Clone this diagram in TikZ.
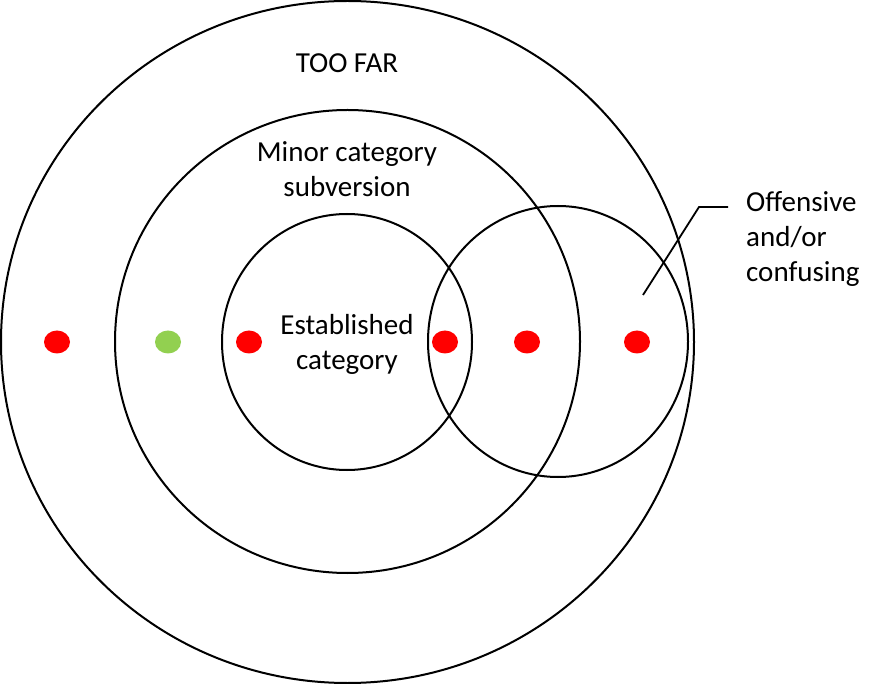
\documentclass[tikz,border=0pt]{standalone}
\usepackage{fontspec}
\setmainfont{Carlito}
\usepackage{xcolor}
\usetikzlibrary{positioning,shapes.geometric}
\definecolor{dotred}{HTML}{FF0000}
\definecolor{dotgreen}{HTML}{92D050}
\definecolor{ink1}{HTML}{000000}

\begin{document}
\begin{tikzpicture}[
  x=1pt, y=-1pt,
  font=\fontsize{29}{35}\selectfont,
  ring/.style={draw=ink1, line width=2pt},
  dotR/.style={ellipse, fill=dotred, draw=none, minimum width=26pt,
               minimum height=23pt, inner sep=0pt},
  dotG/.style={dotR, fill=dotgreen},
  lbl/.style={text=ink1, align=center, inner sep=0pt},
  lead/.style={draw=ink1, line width=1.8pt}
]
\useasboundingbox (0,0) rectangle (881,684);

% ===== rings =====
\draw[ring] (347.5,342) ellipse[x radius=346.5, y radius=341];
\draw[ring] (347.5,341.5) ellipse[x radius=232.5, y radius=231.5];
\draw[ring] (347,342) ellipse[x radius=125, y radius=128];
\draw[ring] (558,341.5) ellipse[x radius=130, y radius=135.5];

% ===== labels =====
\node[lbl] (toofar) at (347,63) {TOO FAR};
\node[lbl] (minor) at (347,169) {Minor category\\subversion};
\node[lbl] (estab) at (347,344) {Established\\category};
\node[lbl, align=left, anchor=west] (offtxt) at (746,239)
     {Offensive\\and/or\\confusing};

% ===== dots =====
\node[dotR] (d1) at (57,342) {};
\node[dotG] (d2) at (168,342) {};
\node[dotR] (d3) at (249,342) {};
\node[dotR] (d4) at (445,342) {};
\node[dotR] (d5) at (527,342) {};
\node[dotR] (d6) at (637,342) {};

% ===== leader =====
\coordinate (leadtip) at (643,295);
\coordinate (leadknee) at (699,207);
\coordinate (leadend) at (728,207);
\draw[lead] (leadtip) -- (leadknee) -- (leadend);
\end{tikzpicture}
\end{document}
